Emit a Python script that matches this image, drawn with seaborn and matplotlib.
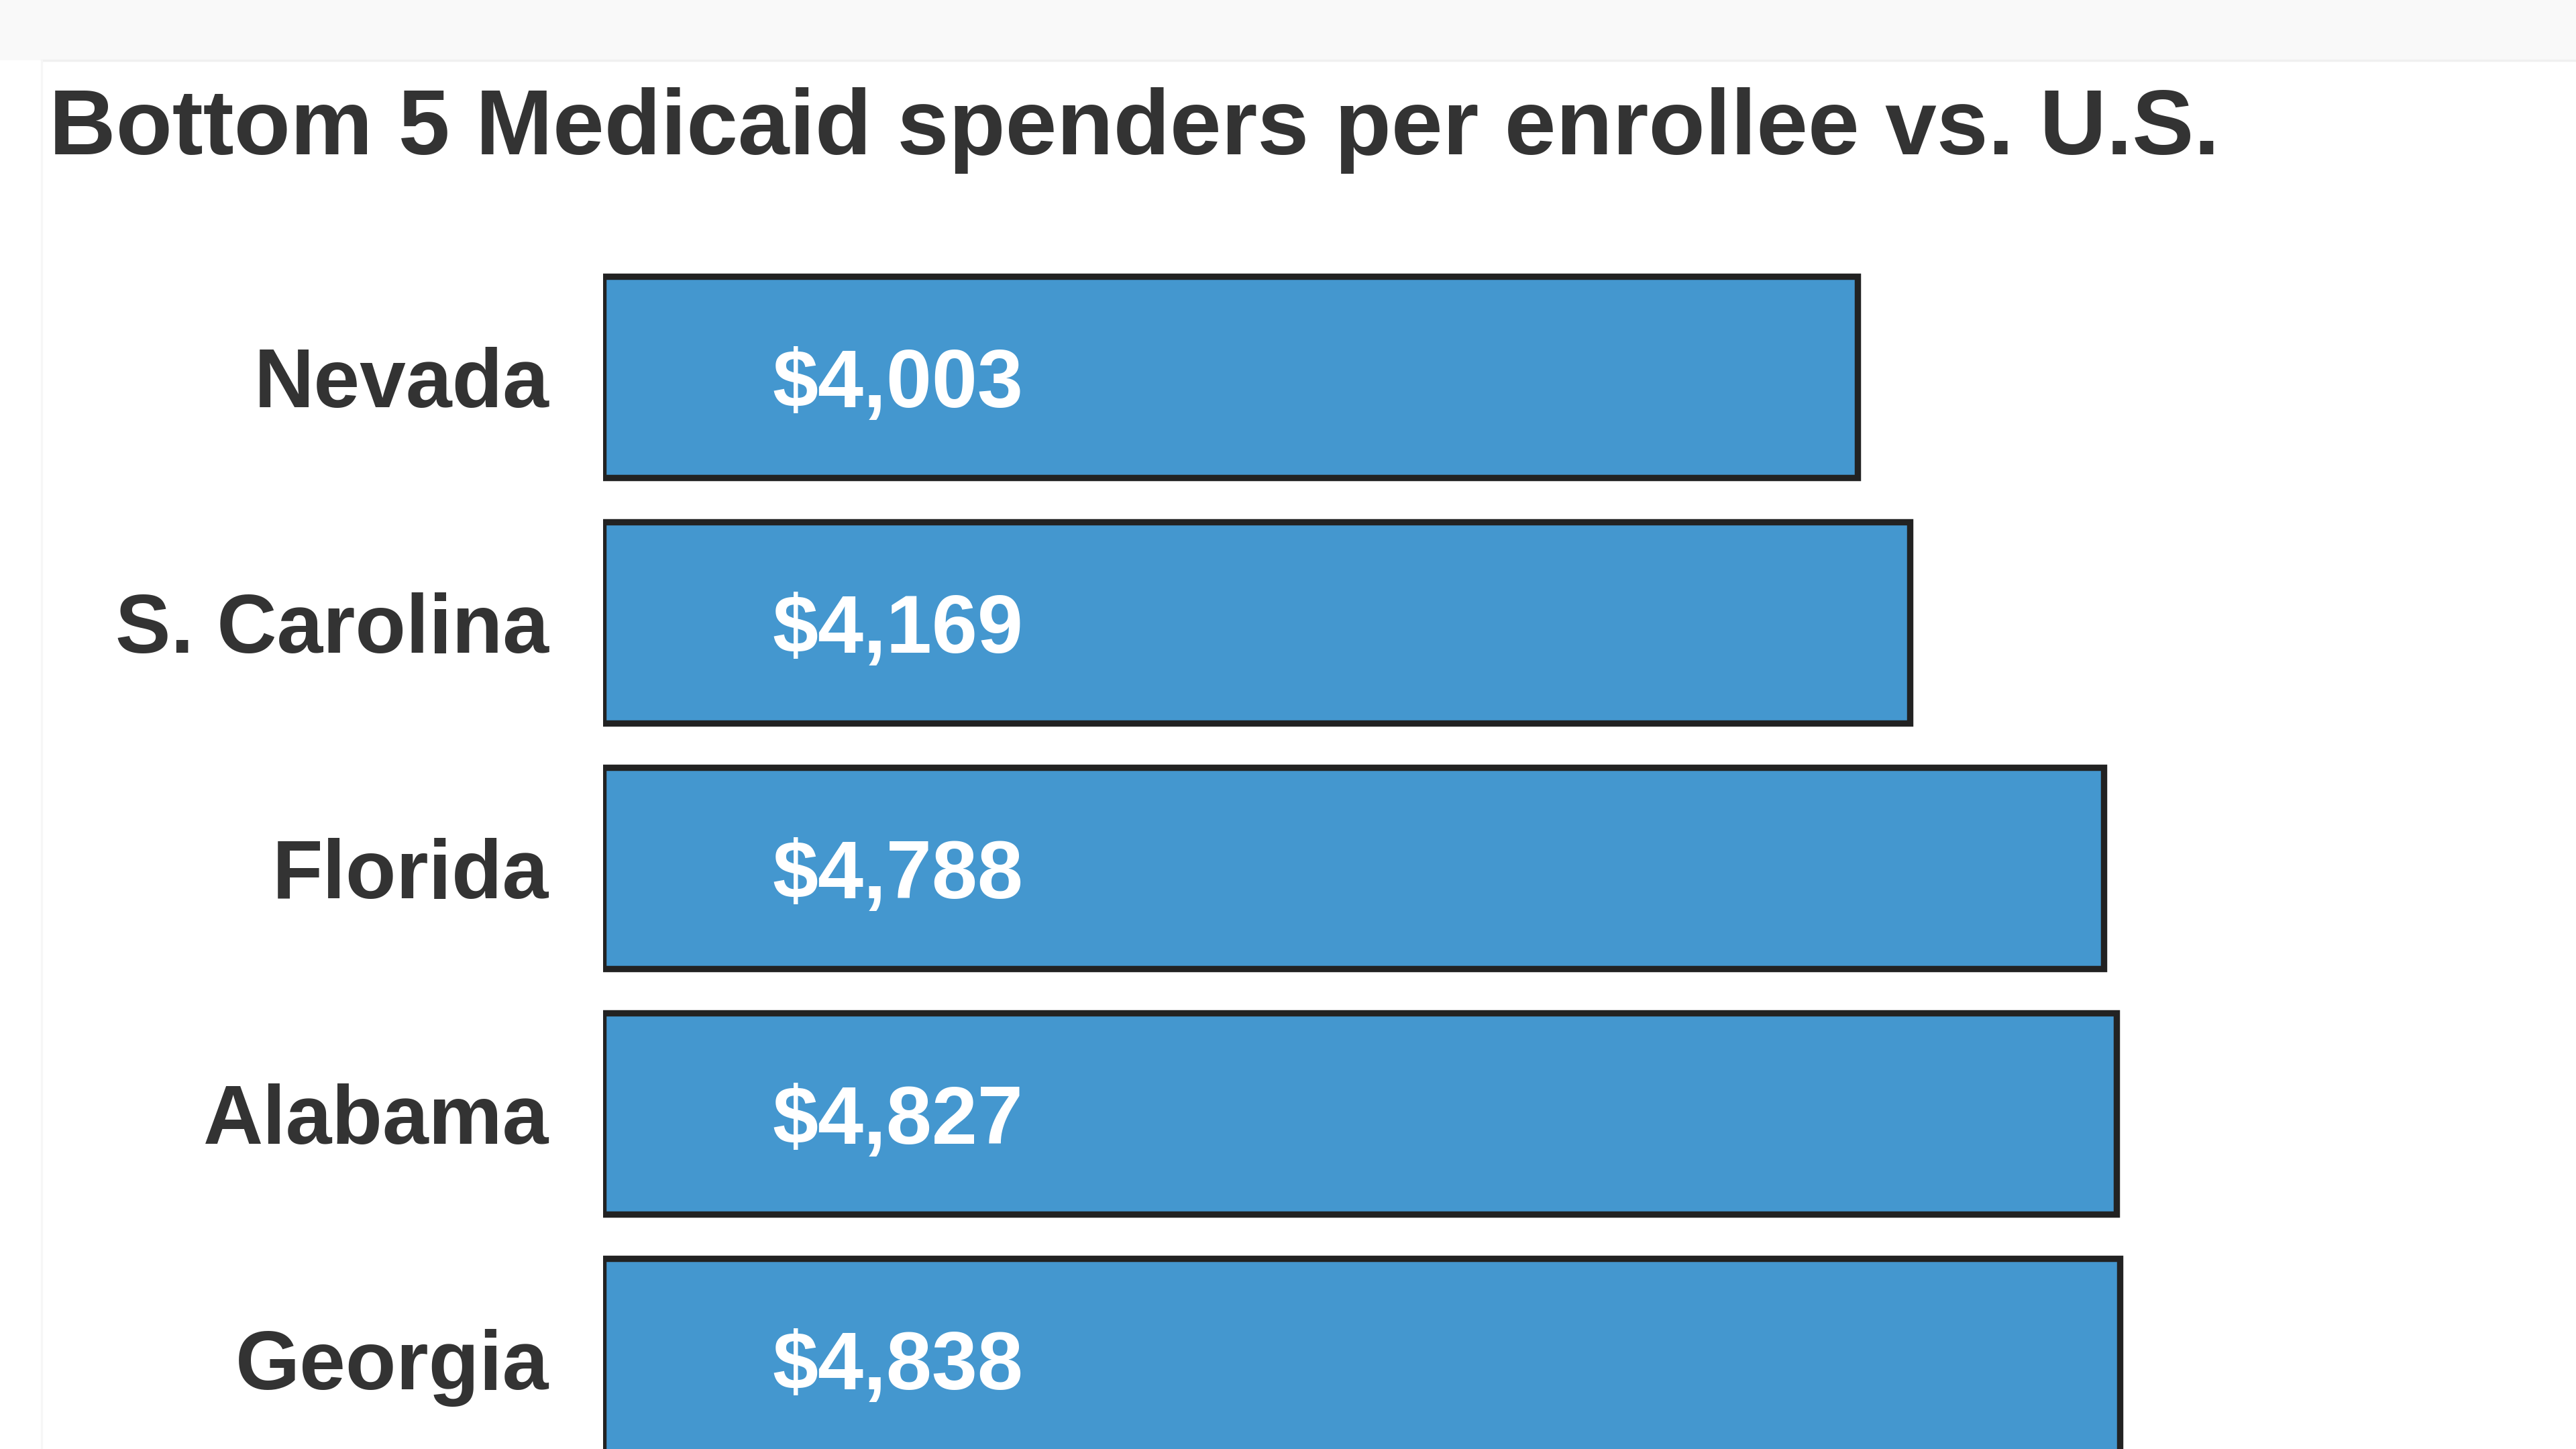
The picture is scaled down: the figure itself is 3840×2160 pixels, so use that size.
import numpy as np
import pandas as pd
import matplotlib.pyplot as plt
import matplotlib.patches as patches
import seaborn as sns

# data
states = ['Nevada', 'S. Carolina', 'Florida', 'Alabama', 'Georgia']
spend = [4003, 4169, 4788, 4827, 4838]
labels = ['$4,003', '$4,169', '$4,788', '$4,827', '$4,838']

df = pd.DataFrame({'state': states, 'spend': spend})

sns.set_theme(style='white')
plt.rcParams['font.family'] = ['Liberation Sans', 'DejaVu Sans']

fig = plt.figure(figsize=(19.2, 10.8), dpi=200)

# card background: light gray strip on top, faint border
fig.patches.append(patches.Rectangle((0, 1 - 90 / 2160), 1, 90 / 2160, transform=fig.transFigure,
                                     facecolor='#f9f9f9', edgecolor='none', zorder=0))
fig.lines.append(plt.Line2D([62 / 3840, 1], [1 - 90 / 2160, 1 - 90 / 2160], transform=fig.transFigure,
                            color='#f0f0f0', lw=1.2))
fig.lines.append(plt.Line2D([62 / 3840, 62 / 3840], [0, 1 - 90 / 2160], transform=fig.transFigure,
                            color='#f6f6f6', lw=1.2))

ax = fig.add_axes([899 / 3840, 0, 1 - 899 / 3840, 1 - 330 / 2160])

sns.barplot(data=df, x='spend', y='state', orient='h', color='#4497cf', saturation=1,
            edgecolor='#222222', linewidth=3.4, width=0.82, ax=ax)

ax.set_xlim(0, 6294)
ax.set_ylim(4.366, -0.634)

# value labels inside bars
for i, lab in enumerate(labels):
    ax.text(540, i, lab, color='white', fontsize=44, fontweight='bold',
            ha='left', va='center_baseline')

ax.set_xlabel('')
ax.set_ylabel('')
ax.set_xticks([])
ax.tick_params(axis='y', length=0, pad=29)
for t in ax.get_yticklabels():
    t.set_fontsize(44.5)
    t.set_fontweight('bold')
    t.set_color('#333333')
sns.despine(ax=ax, left=True, bottom=True)
ax.patch.set_alpha(0)

fig.text(73 / 3840, 1 - 230 / 2160, 'Bottom 5 Medicaid spenders per enrollee vs. U.S.',
         fontsize=49.7, fontweight='bold', color='#333333', ha='left', va='baseline')

plt.savefig('out.png', dpi=200)
